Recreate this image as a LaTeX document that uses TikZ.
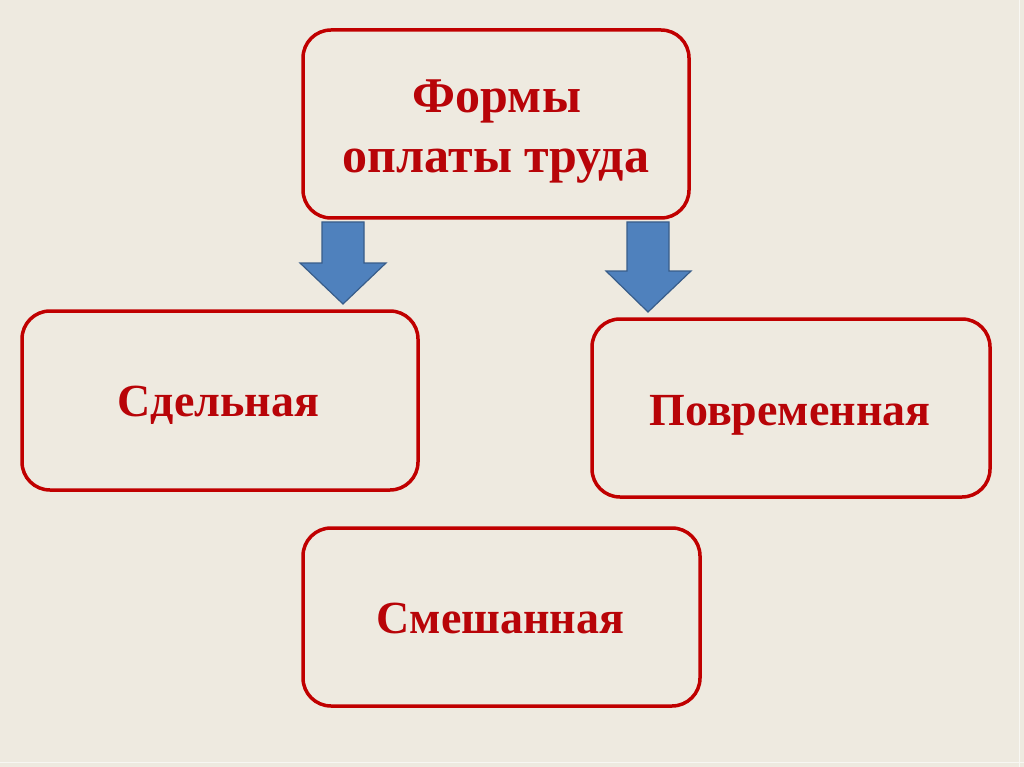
\documentclass[tikz,border=0pt]{standalone}
\usepackage{fontspec}
\setmainfont{Liberation Serif}
\definecolor{bg}{RGB}{238,234,224}
\definecolor{boxred}{RGB}{192,0,0}
\definecolor{txtred}{RGB}{184,4,8}
\definecolor{arrfill}{RGB}{79,129,189}
\definecolor{arrdraw}{RGB}{56,93,138}
\tikzset{
  box/.style={draw=boxred, line width=3.5pt, rounded corners=28pt, fill=bg, inner sep=0pt},
  lbl/.style={font=\fontsize{46}{60}\selectfont\bfseries, text=txtred, inner sep=0pt, anchor=base},
  biglbl/.style={lbl, font=\fontsize{50}{60}\selectfont\bfseries},
  blockarrow/.style={fill=arrfill, draw=arrdraw, line width=1.2pt, line join=miter}
}
\begin{document}
\begin{tikzpicture}[x=1pt,y=-1pt]
\fill[bg] (0,0) rectangle (1024,767);
\useasboundingbox (0,0) rectangle (1024,767);
\draw[white!60!bg, line width=0.8pt] (1019,0) -- (1019,767);
\draw[white!60!bg, line width=0.8pt] (0,762) -- (1024,762);
\node[box, minimum width=386pt, minimum height=188pt] (top) at (496,124) {};
\node[box, minimum width=396pt, minimum height=179pt] (left) at (220,400.5) {};
\node[box, minimum width=398pt, minimum height=178pt] (right) at (791,408) {};
\node[box, minimum width=397pt, minimum height=178pt] (bottom) at (501.5,617) {};
\node[biglbl] (topA) at (497,113) {Формы};
\node[biglbl] (topB) at (496,173) {оплаты труда};
\node[lbl] (leftT) at (218.5,416) {Сдельная};
\node[lbl] (rightT) at (790,425) {Повременная};
\node[lbl] (bottomT) at (500.5,633) {Смешанная};
\draw[blockarrow] (322,222) -- (364,222) -- (364,263) -- (386,263) -- (343,304) -- (300,263) -- (322,263) -- cycle;
\draw[blockarrow] (627,222) -- (669,222) -- (669,271) -- (691,271) -- (648,312) -- (606,271) -- (627,271) -- cycle;
\end{tikzpicture}
\end{document}
